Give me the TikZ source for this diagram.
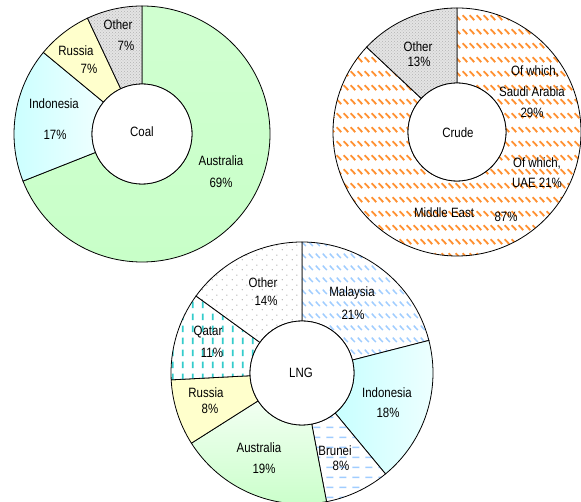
\documentclass[tikz,border=0pt]{standalone}
\usepackage{fontspec}
\setmainfont{Liberation Sans}[FakeStretch=0.85]
\usetikzlibrary{calc,patterns}
\definecolor{pgreen}{RGB}{200,255,200}
\definecolor{pgreenl}{RGB}{242,255,242}
\definecolor{pcyan}{RGB}{200,255,255}
\definecolor{pcyanl}{RGB}{240,255,255}
\definecolor{pyellow}{RGB}{255,255,204}
\definecolor{porange}{RGB}{255,145,50}
\definecolor{pblue}{RGB}{160,205,255}
\definecolor{pteal}{RGB}{51,204,204}
\definecolor{pgray}{RGB}{228,228,228}
\pgfdeclarepatternformonly{crudedash}{\pgfpoint{0pt}{0pt}}{\pgfpoint{7pt}{14pt}}{\pgfpoint{7pt}{14pt}}{%
  \pgfsetlinewidth{2pt}\pgfpathmoveto{\pgfpoint{0.8pt}{11.5pt}}\pgfpathlineto{\pgfpoint{6pt}{6.3pt}}\pgfusepath{stroke}}
\pgfdeclarepatternformonly{malaydash}{\pgfpoint{0pt}{0pt}}{\pgfpoint{7pt}{12pt}}{\pgfpoint{7pt}{12pt}}{%
  \pgfsetlinewidth{1.6pt}\pgfpathmoveto{\pgfpoint{0.8pt}{9pt}}\pgfpathlineto{\pgfpoint{5.5pt}{4.3pt}}\pgfusepath{stroke}}
\pgfdeclarepatternformonly{vdash}{\pgfpoint{0pt}{0pt}}{\pgfpoint{10pt}{12pt}}{\pgfpoint{10pt}{12pt}}{%
  \pgfsetlinewidth{1.8pt}\pgfpathmoveto{\pgfpoint{3pt}{2pt}}\pgfpathlineto{\pgfpoint{3pt}{9pt}}\pgfusepath{stroke}}
\pgfdeclarepatternformonly{hdash}{\pgfpoint{0pt}{0pt}}{\pgfpoint{13pt}{10pt}}{\pgfpoint{13pt}{10pt}}{%
  \pgfsetlinewidth{1.6pt}\pgfpathmoveto{\pgfpoint{1.5pt}{5pt}}\pgfpathlineto{\pgfpoint{9pt}{5pt}}\pgfusepath{stroke}}
\pgfdeclarepatternformonly{sparsedots}{\pgfpoint{0pt}{0pt}}{\pgfpoint{10pt}{10pt}}{\pgfpoint{10pt}{10pt}}{%
  \pgfpathcircle{\pgfpoint{2.5pt}{2.5pt}}{0.7pt}\pgfpathcircle{\pgfpoint{7.5pt}{7.5pt}}{0.7pt}\pgfusepath{fill}}
\newcommand{\ringseg}[6]{\path[#1] ($(#2)+(#3:#5)$) arc[start angle=#3,end angle=#4,radius=#5] -- ($(#2)+(#4:#6)$) arc[start angle=#4,end angle=#3,radius=#6] -- cycle;}
\tikzset{
  outl/.style={draw=black, line width=0.8pt},
  lbl/.style={font=\fontsize{13.5}{16}\selectfont, inner sep=0pt, text=black},
  stipple/.style={preaction={fill=pgray}, pattern=crosshatch dots, pattern color=gray!60},
}
\begin{document}
\begin{tikzpicture}[x=1pt,y=1pt]
\useasboundingbox (0,0) rectangle (581,502);
\coordinate (coal) at (142,368);
\coordinate (crude) at (457,370);
\coordinate (lng) at (302,129);
% ---------- Coal ----------
\ringseg{outl, top color=pgreen!85, middle color=pgreenl, bottom color=pgreen}{coal}{90}{-158.4}{128}{50}
\ringseg{outl, left color=pcyan, right color=pcyanl}{coal}{-158.4}{-219.6}{128}{50}
\ringseg{outl, fill=pyellow}{coal}{-219.6}{-244.8}{128}{50}
\ringseg{outl, stipple}{coal}{-244.8}{-270}{128}{50}
\draw[outl, fill=white] (coal) circle[radius=50];
% ---------- Crude ----------
\ringseg{outl, preaction={fill=white}, pattern=crudedash, pattern color=porange}{crude}{90}{-223.2}{124}{49}
\ringseg{outl, stipple}{crude}{-223.2}{-270}{124}{49}
\draw[outl, fill=white] (crude) circle[radius=49];
% ---------- LNG ----------
\ringseg{outl, preaction={fill=white}, pattern=malaydash, pattern color=pblue}{lng}{90}{14.4}{131}{52}
\ringseg{outl, left color=pcyan, right color=pcyanl}{lng}{14.4}{-50.4}{131}{52}
\ringseg{outl, preaction={fill=white}, pattern=hdash, pattern color=pblue}{lng}{-50.4}{-79.2}{131}{52}
\ringseg{outl, top color=pgreenl, bottom color=pgreen}{lng}{-79.2}{-147.6}{131}{52}
\ringseg{outl, fill=pyellow}{lng}{-147.6}{-177}{131}{52}
\ringseg{outl, preaction={fill=white}, pattern=vdash, pattern color=pteal}{lng}{-177}{-216}{131}{52}
\ringseg{outl, preaction={fill=white}, pattern=sparsedots, pattern color=gray!70}{lng}{-216}{-270}{131}{52}
\draw[outl, fill=white] (lng) circle[radius=52];
% ---------- labels: coal ----------
\node[lbl] (coalc) at (142,370) {Coal};
\node[lbl] (coalo1) at (118,477) {Other};
\node[lbl] (coalo2) at (126,456) {7\%};
\node[lbl] (coalr1) at (76,451) {Russia};
\node[lbl] (coalr2) at (89,433) {7\%};
\node[lbl] (coali1) at (54,398) {Indonesia};
\node[lbl] (coali2) at (55,367) {17\%};
\node[lbl] (coala1) at (221,341) {Australia};
\node[lbl] (coala2) at (221,319) {69\%};
% ---------- labels: crude ----------
\node[lbl] (crc) at (458,369) {Crude};
\node[lbl] (cro1) at (418,455) {Other};
\node[lbl] (cro2) at (419,440) {13\%};
\node[lbl] (crs1) at (535,431) {Of which,};
\node[lbl] (crs2) at (532,410) {Saudi Arabia};
\node[lbl] (crs3) at (532,389) {29\%};
\node[lbl] (cru1) at (537,339) {Of which,};
\node[lbl] (cru2) at (537,319) {UAE 21\%};
\node[lbl] (crm1) at (444,289) {Middle East};
\node[lbl] (crm2) at (506,285) {87\%};
% ---------- labels: LNG ----------
\node[lbl] (lngc) at (301,129) {LNG};
\node[lbl] (lngo1) at (263,219) {Other};
\node[lbl] (lngo2) at (266,201) {14\%};
\node[lbl] (lngm1) at (352,209) {Malaysia};
\node[lbl] (lngm2) at (353,187) {21\%};
\node[lbl] (lngq1) at (208,170) {Qatar};
\node[lbl] (lngq2) at (212,149) {11\%};
\node[lbl] (lngi1) at (387,109) {Indonesia};
\node[lbl] (lngi2) at (388,89) {18\%};
\node[lbl] (lngr1) at (206,109) {Russia};
\node[lbl] (lngr2) at (210,93) {8\%};
\node[lbl] (lnga1) at (259,54) {Australia};
\node[lbl] (lnga2) at (264,33) {19\%};
\node[lbl] (lngb1) at (335,51) {Brunei};
\node[lbl] (lngb2) at (341,36) {8\%};
\end{tikzpicture}
\end{document}
